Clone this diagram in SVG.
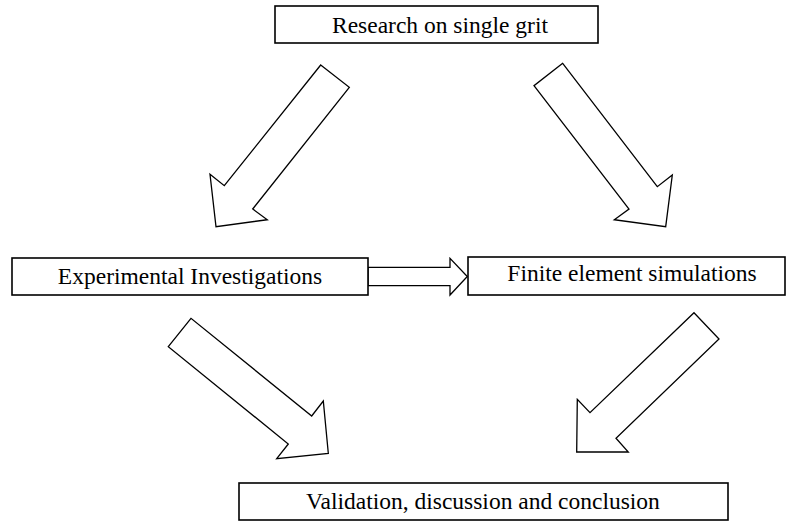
<svg xmlns="http://www.w3.org/2000/svg" width="787" height="521" viewBox="0 0 787 521">
<style>
.box{fill:#fff;stroke:#000;stroke-width:1.6}
.arr{fill:#fff;stroke:#000;stroke-width:1.3;stroke-linejoin:miter}
.t{font-family:"Liberation Serif","Times New Roman",serif;font-size:23.5px;fill:#000;text-anchor:middle}
</style>
<rect width="787" height="521" fill="#fff"/>
<g id="connectors">
<polygon class="arr" points="320.7,65 349.3,87.3 252.7,209 267.3,219.7 216,226.7 210,174.3 224.3,185.7"/>
<polygon class="arr" points="562.7,63.3 534,85.7 629,209 614.3,219.7 665.7,226.7 672.3,175 657.3,186.7"/>
<polygon class="arr" points="191,318.3 168.3,346.7 288.3,444 276.7,458.7 328.3,453.3 323.3,401 311.7,416"/>
<polygon class="arr" points="694,312.7 719,339 616,438.3 628.3,452 576.7,452 577.3,399.3 590,412.7"/>
<polygon class="arr" points="368,267.3 450,267.3 450,258.3 467.3,276.5 450,295 450,285.7 368,285.7"/>
</g>
<g id="n1">
<rect class="box" x="275" y="6" width="323" height="37"/>
<text class="t" x="440" y="33">Research on single grit</text>
</g>
<g id="n2">
<rect class="box" x="12" y="258" width="356" height="37"/>
<text class="t" x="190" y="284">Experimental Investigations</text>
</g>
<g id="n3">
<rect class="box" x="468" y="257" width="317" height="38"/>
<text class="t" x="632" y="281">Finite element simulations</text>
</g>
<g id="n4">
<rect class="box" x="239" y="483" width="489" height="37"/>
<text class="t" x="483" y="509">Validation, discussion and conclusion</text>
</g>
</svg>
